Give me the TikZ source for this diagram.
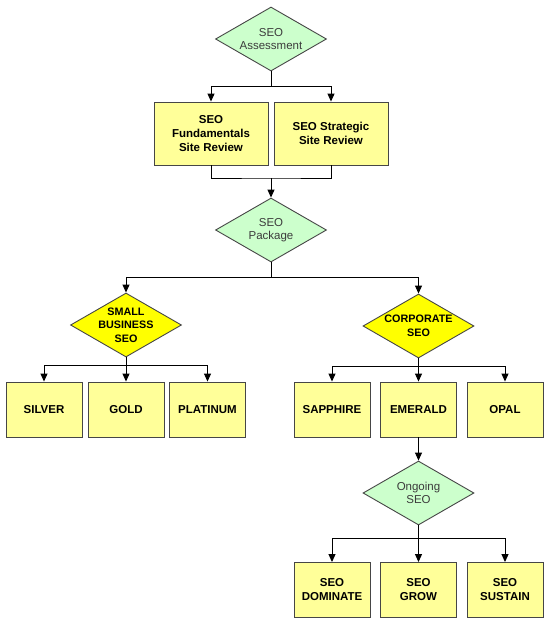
\documentclass[tikz,border=0pt]{standalone}
\usepackage{fontspec}
\setmainfont{Liberation Sans}
\usetikzlibrary{arrows.meta,shapes.geometric}
\definecolor{mint}{RGB}{204,255,204}
\definecolor{butter}{RGB}{255,255,153}
\definecolor{lemon}{RGB}{255,255,0}
\definecolor{edge}{RGB}{70,70,70}
\definecolor{ink}{RGB}{60,60,60}
\tikzset{
  >={Triangle[length=8pt,width=7pt]},
  box/.style={draw=edge,fill=butter,line width=0.9pt,minimum width=76pt,minimum height=55pt,
    align=center,font=\fontsize{11.5}{14}\selectfont\bfseries,inner sep=0pt},
  wide box/.style={box,minimum width=114pt,minimum height=63pt},
  choice/.style={diamond,draw=edge,fill=#1,line width=0.9pt,minimum width=111pt,
    minimum height=64pt,inner sep=0pt},
  choice/.default=mint,
  tag/.style={align=center,font=\fontsize{11.5}{13.5}\selectfont,text=ink},
  bold tag/.style={align=center,font=\fontsize{10.8}{13.5}\selectfont\bfseries},
  flow/.style={line width=1pt,draw=black},
}

\begin{document}
\begin{tikzpicture}[x=1pt,y=-1pt]
  \useasboundingbox (0,0) rectangle (550,625);

  % assessment and the two reviews
  \node[choice] (assess) at (271,39) {};
  \node[tag] (assess-t) at (assess) {SEO\\Assessment};
  \node[wide box] (fund) at (211,133.5) {SEO\\Fundamentals\\Site Review};
  \node[wide box] (strat) at (331,133.5) {SEO Strategic\\Site Review};
  \coordinate (split1) at (271,86);
  \coordinate (merge1) at (271,178);
  \draw[flow] (assess.south) -- (split1);
  \draw[flow,->] (split1) -| (fund.north);
  \draw[flow,->] (split1) -| (strat.north);
  \draw[flow] (fund.south) |- (merge1) -| (strat.south);

  % package
  \node[choice] (pkg) at (271,230) {};
  \node[tag] (pkg-t) at (pkg) {SEO\\Package};
  \draw[flow,->] (merge1) -- (pkg.north);
  \coordinate (split2) at (271,277);
  \draw[flow] (pkg.south) -- (split2);

  \node[choice=lemon] (small) at (126,325) {};
  \node[bold tag] (small-t) at (small) {SMALL\\BUSINESS\\SEO};
  \node[choice=lemon] (corp) at (418.5,326) {};
  \node[bold tag] (corp-t) at (corp) {CORPORATE\\SEO};
  \draw[flow,->] (split2) -| (small.north);
  \draw[flow,->] (split2) -| (corp.north);

  % small business packages
  \coordinate (split3) at (126,365);
  \draw[flow] (small.south) -- (split3);
  \foreach \n/\x/\t in {silver/44/SILVER, gold/126/GOLD, platinum/207.5/PLATINUM}
  {
    \node[box] (\n) at (\x,409.5) {\t};
    \draw[flow,->] (split3) -| (\n.north);
  }

  % corporate packages
  \coordinate (split4) at (418.5,366);
  \draw[flow] (corp.south) -- (split4);
  \foreach \n/\x/\t in {sapphire/332/SAPPHIRE, emerald/418.5/EMERALD, opal/505/OPAL}
  {
    \node[box] (\n) at (\x,409.5) {\t};
    \draw[flow,->] (split4) -| (\n.north);
  }

  % ongoing
  \node[choice] (ongoing) at (418.5,493) {};
  \node[tag] (ongoing-t) at (ongoing) {Ongoing\\SEO};
  \draw[flow,->] (emerald.south) -- (ongoing.north);
  \coordinate (split5) at (418.5,538);
  \draw[flow] (ongoing.south) -- (split5);
  \foreach \n/\x/\t in {dominate/332/DOMINATE, grow/418.5/GROW, sustain/505/SUSTAIN}
  {
    \node[box] (\n) at (\x,590) {SEO\\\t};
    \draw[flow,->] (split5) -| (\n.north);
  }
\end{tikzpicture}
\end{document}
